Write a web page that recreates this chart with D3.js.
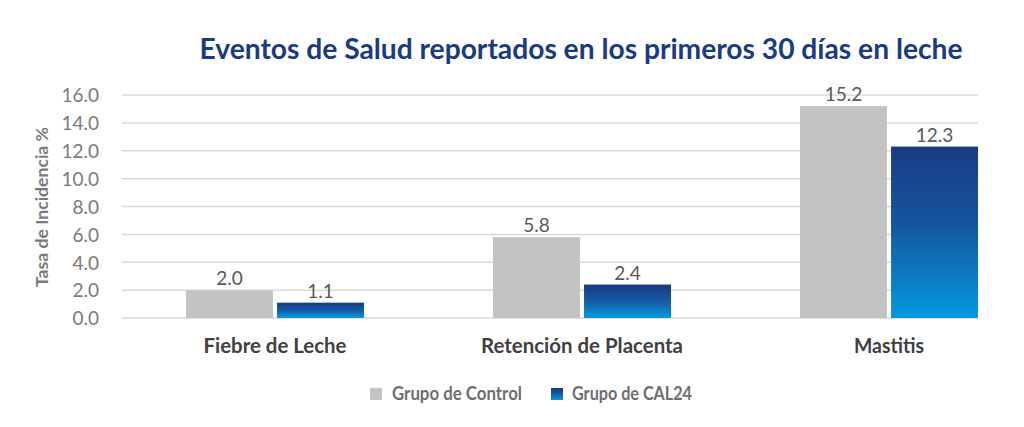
<!DOCTYPE html>
<html lang="es">
<head>
  <meta charset="UTF-8">
  <title>Eventos de Salud</title>
  <script src="https://d3js.org/d3.v7.min.js"></script>
  <style>
    body { margin: 0; background: #fff; }
    svg { font-family: Lato, "Open Sans", sans-serif; }
    .tick text { fill: #7a7a7a; font-size: 19px; font-family: Lato, sans-serif; }
    .grid line { stroke: #d9d9d9; stroke-width: 1.5; }
  </style>
</head>
<body>
  <svg></svg>
  <script>
    const categories = ['Fiebre de Leche', 'Retención de Placenta', 'Mastitis'];
    const groups = ['Grupo de Control', 'Grupo de CAL24'];
    const control = [2.0, 5.8, 15.2];
    const cal24 = [1.1, 2.4, 12.3];
    const yTicks = [0, 2, 4, 6, 8, 10, 12, 14, 16];

    const data = categories.map((c, i) => ({ cat: c, values: [control[i], cal24[i]] }));

    const width = 1024, height = 427;
    const plot = { left: 122, right: 978, top: 95, bottom: 318 };

    const svg = d3.select('svg')
        .attr('width', width)
        .attr('height', height);

    const defs = svg.append('defs');
    const grad = defs.append('linearGradient')
        .attr('id', 'blueGrad')
        .attr('x1', 0).attr('y1', 0).attr('x2', 0).attr('y2', 1);
    grad.append('stop').attr('offset', '0%').attr('stop-color', '#1b3a84');
    grad.append('stop').attr('offset', '45%').attr('stop-color', '#15559f');
    grad.append('stop').attr('offset', '100%').attr('stop-color', '#049ade');

    const x0 = d3.scaleBand()
        .domain(categories)
        .range([121.5, 1042.5]);

    const x1 = d3.scaleBand()
        .domain(groups)
        .range([0, 178])
        .paddingInner(0.045);

    const y = d3.scaleLinear()
        .domain([0, 16])
        .range([plot.bottom, plot.top]);

    const colors = ['#c3c3c3', 'url(#blueGrad)'];

    // gridlines
    svg.append('g')
        .attr('class', 'grid')
        .selectAll('line')
        .data(yTicks)
        .enter()
        .append('line')
        .attr('x1', plot.left)
        .attr('x2', plot.right)
        .attr('y1', d => y(d))
        .attr('y2', d => y(d));

    // y axis
    const yAxis = svg.append('g')
        .attr('transform', `translate(${plot.left - 20},0)`)
        .call(d3.axisLeft(y).tickValues(yTicks).tickFormat(d3.format('.1f')).tickSize(0));
    yAxis.select('.domain').remove();
    yAxis.selectAll('.tick text').attr('dy', '0.36em');

    // bars
    const cat = svg.selectAll('.cat')
        .data(data)
        .enter()
        .append('g')
        .attr('class', 'cat')
        .attr('transform', d => `translate(${x0(d.cat) + x0.bandwidth() / 2 - 89},0)`);

    cat.selectAll('rect')
        .data(d => d.values.map((v, i) => ({ g: groups[i], v, i })))
        .enter()
        .append('rect')
        .attr('x', d => x1(d.g))
        .attr('y', d => y(d.v))
        .attr('width', x1.bandwidth())
        .attr('height', d => y(0) - y(d.v))
        .attr('fill', d => colors[d.i]);

    cat.selectAll('.val')
        .data(d => d.values.map((v, i) => ({ g: groups[i], v, i })))
        .enter()
        .append('text')
        .attr('class', 'val')
        .attr('x', d => x1(d.g) + x1.bandwidth() / 2)
        .attr('y', d => y(d.v) - 5)
        .attr('text-anchor', 'middle')
        .style('font-size', '19px')
        .style('fill', '#595959')
        .text(d => d3.format('.1f')(d.v));

    // category labels
    const catWidths = [143, 202, 70];
    svg.selectAll('.catlabel')
        .data(categories)
        .enter()
        .append('text')
        .attr('class', 'catlabel')
        .attr('x', d => x0(d) + x0.bandwidth() / 2)
        .attr('y', 353)
        .attr('text-anchor', 'middle')
        .attr('textLength', (d, i) => catWidths[i])
        .attr('lengthAdjust', 'spacingAndGlyphs')
        .style('font-size', '21px')
        .style('font-weight', 'bold')
        .style('fill', '#404040')
        .text(d => d);

    // y axis title
    svg.append('text')
        .attr('transform', 'rotate(-90)')
        .attr('x', -207)
        .attr('y', 48)
        .attr('text-anchor', 'middle')
        .attr('textLength', 160)
        .attr('lengthAdjust', 'spacingAndGlyphs')
        .style('font-size', '17px')
        .style('font-weight', 'bold')
        .style('fill', '#7a7a7a')
        .text('Tasa de Incidencia %');

    // title
    svg.append('text')
        .attr('x', 581)
        .attr('y', 59)
        .attr('text-anchor', 'middle')
        .attr('textLength', 763)
        .attr('lengthAdjust', 'spacingAndGlyphs')
        .style('font-size', '29px')
        .style('font-weight', 'bold')
        .style('fill', '#1b3a84')
        .text('Eventos de Salud reportados en los primeros 30 días en leche');

    // legend
    const legendX = [370, 551];
    const legendW = [130, 120];
    const legend = svg.selectAll('.legend')
        .data(groups)
        .enter()
        .append('g')
        .attr('class', 'legend')
        .attr('transform', (d, i) => `translate(${legendX[i]},388)`);

    legend.append('rect')
        .attr('x', 0)
        .attr('y', 0)
        .attr('width', 12)
        .attr('height', 12)
        .attr('fill', (d, i) => colors[i]);

    legend.append('text')
        .attr('x', (d, i) => i === 0 ? 22 : 21)
        .attr('y', 12)
        .attr('textLength', (d, i) => legendW[i])
        .attr('lengthAdjust', 'spacingAndGlyphs')
        .style('font-size', '18px')
        .style('font-weight', 'bold')
        .style('fill', '#6e6e6e')
        .text(d => d);
  </script>
</body>
</html>
